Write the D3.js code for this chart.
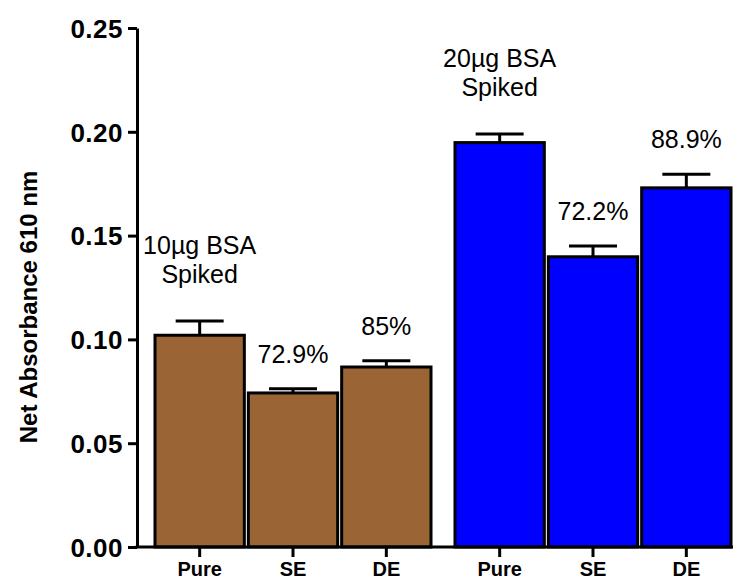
<!DOCTYPE html>
<html>
<head>
<meta charset="utf-8">
<script src="https://cdn.jsdelivr.net/npm/d3@7/dist/d3.min.js"></script>
<style>
  body { margin: 0; background: #fff; }
  text { font-family: "Liberation Sans", Arial, Helvetica, sans-serif; fill: #000; }
</style>
</head>
<body>
<div id="chart"></div>
<script>
const width = 734;
const height = 581;

// data
const groups = ["10µg BSA Spiked", "20µg BSA Spiked"];
const groupLabels = [["10µg BSA", "Spiked"], ["20µg BSA", "Spiked"]];
const methods = ["Pure", "SE", "DE"];
const brownMeans = [0.102, 0.0742, 0.0867];
const brownErrors = [0.0069, 0.002, 0.003];
const blueMeans = [0.1948, 0.1398, 0.173];
const blueErrors = [0.0042, 0.0052, 0.0066];
const brownRecovery = [null, "72.9%", "85%"];
const blueRecovery = [null, "72.2%", "88.9%"];
const yTicks = [0, 0.05, 0.10, 0.15, 0.20, 0.25];
const groupColors = ["#9a6434", "#0000ff"];

const means = [brownMeans, blueMeans];
const errors = [brownErrors, blueErrors];
const recovery = [brownRecovery, blueRecovery];

const rows = [];
groups.forEach((g, gi) => {
  methods.forEach((m, mi) => {
    rows.push({
      group: g, gi, method: m,
      mean: means[gi][mi],
      err: errors[gi][mi],
      rec: recovery[gi][mi]
    });
  });
});

const svg = d3.select("#chart").append("svg")
  .attr("width", width)
  .attr("height", height);

const axisX = 137;

const y = d3.scaleLinear()
  .domain([0, 0.25])
  .range([547, 28]);

const outer = d3.scaleBand()
  .domain(groups)
  .range([153, 733])
  .paddingInner(20 / 300);

const inner = d3.scaleBand()
  .domain(methods)
  .range([0, outer.bandwidth()]);

const cx = d => outer(d.group) + inner(d.method) + inner.bandwidth() / 2;

// bars
svg.append("g")
  .selectAll("rect")
  .data(rows)
  .join("rect")
  .attr("x", d => outer(d.group) + inner(d.method) + 2)
  .attr("width", inner.bandwidth() - 4)
  .attr("y", d => y(d.mean))
  .attr("height", d => y(0) - y(d.mean))
  .attr("fill", d => groupColors[d.gi])
  .attr("stroke", "#000")
  .attr("stroke-width", 3);

// error bars (upper only)
const err = svg.append("g")
  .attr("stroke", "#000")
  .attr("stroke-width", 3)
  .selectAll("g")
  .data(rows)
  .join("g");

err.append("line")
  .attr("x1", cx).attr("x2", cx)
  .attr("y1", d => y(d.mean))
  .attr("y2", d => y(d.mean + d.err));

err.append("line")
  .attr("x1", d => cx(d) - 24).attr("x2", d => cx(d) + 24)
  .attr("y1", d => y(d.mean + d.err))
  .attr("y2", d => y(d.mean + d.err));

// recovery percentages
svg.append("g")
  .selectAll("text")
  .data(rows.filter(d => d.rec))
  .join("text")
  .attr("x", cx)
  .attr("y", d => y(d.mean + d.err) - 26)
  .attr("text-anchor", "middle")
  .style("font-size", "25px")
  .text(d => d.rec);

// group labels above the Pure bars
const pureRows = rows.filter(d => d.method === "Pure");
const gl = svg.append("g")
  .selectAll("text")
  .data(pureRows)
  .join("text")
  .attr("text-anchor", "middle")
  .style("font-size", "25px");

gl.append("tspan")
  .attr("x", cx)
  .attr("y", d => y(d.mean + d.err) - 67)
  .text(d => groupLabels[d.gi][0]);

gl.append("tspan")
  .attr("x", cx)
  .attr("y", d => y(d.mean + d.err) - 38)
  .text(d => groupLabels[d.gi][1]);

// y axis
const yAxis = svg.append("g")
  .attr("transform", `translate(${axisX},0)`)
  .call(d3.axisLeft(y)
    .tickValues(yTicks)
    .tickFormat(d3.format(".2f"))
    .tickSize(9)
    .tickSizeOuter(0)
    .tickPadding(5));

yAxis.select(".domain").attr("stroke", "#000").attr("stroke-width", 3);
yAxis.selectAll(".tick line").attr("stroke", "#000").attr("stroke-width", 3);
yAxis.selectAll(".tick text")
  .style("font-size", "26px")
  .style("font-weight", "bold")
  .style("letter-spacing", "0.5px")
  .attr("fill", "#000")
  .attr("dy", "0.36em");

// x axis
svg.append("line")
  .attr("x1", axisX - 1.5).attr("x2", outer.range()[1])
  .attr("y1", y(0)).attr("y2", y(0))
  .attr("stroke", "#000")
  .attr("stroke-width", 3);

const xt = svg.append("g")
  .selectAll("g")
  .data(rows)
  .join("g")
  .attr("transform", d => `translate(${cx(d)},${y(0)})`);

xt.append("line")
  .attr("y1", 0).attr("y2", 10)
  .attr("stroke", "#000")
  .attr("stroke-width", 3);

xt.append("text")
  .attr("y", 29)
  .attr("text-anchor", "middle")
  .style("font-size", "20px")
  .style("font-weight", "bold")
  .text(d => d.method);

// y axis title
svg.append("text")
  .attr("transform", "translate(37,307) rotate(-90)")
  .attr("text-anchor", "middle")
  .style("font-size", "24px")
  .style("font-weight", "bold")
  .text("Net Absorbance 610 nm");
</script>
</body>
</html>
